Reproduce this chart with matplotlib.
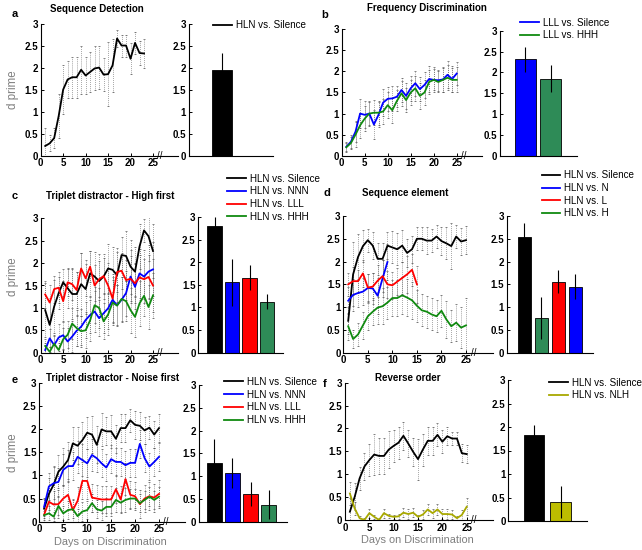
import numpy as np
import matplotlib
matplotlib.use('Agg')
import matplotlib.pyplot as plt
from matplotlib.ticker import FormatStrFormatter

plt.rcParams['font.family'] = ['Liberation Sans', 'DejaVu Sans']

# ---- data ----
days = np.arange(1, 26)

# a: sequence detection
a_sil = [0.22, 0.28, 0.4, 0.9, 1.5, 1.73, 1.78, 1.78, 1.95, 1.82, 1.9, 1.98, 2.0, 1.84, 1.85,
         2.05, 2.66, 2.5, 2.5, 2.2, 2.56, 2.33, 2.32]
a_sil_err = [0.4, 0.18, 0.22, 0.5, 0.55, 0.43, 0.47, 0.47, 0.54, 0.43, 0.45, 0.5, 0.48, 0.38, 0.72,
             0.6, 0.2, 0.25, 0.25, 0.35, 0.25, 0.28, 0.33]
a_bar = [1.95]
a_bar_err = [0.37]

# b: frequency discrimination
b_sil = [0.21, 0.33, 0.57, 1.0, 0.97, 1.0, 0.74, 0.97, 1.26, 1.35, 1.36, 1.4, 1.56, 1.42, 1.6,
         1.72, 1.58, 1.68, 1.82, 1.8, 1.79, 1.81, 1.92, 1.82, 1.95]
b_hhh = [0.2, 0.3, 0.5, 0.72, 0.88, 1.0, 1.02, 1.02, 1.05, 1.2, 1.08, 1.3, 1.48, 1.32, 1.5,
         1.6, 1.42, 1.5, 1.75, 1.8, 1.75, 1.8, 1.85, 1.8, 1.8]
b_sil_err = [0.12, 0.15, 0.25, 0.35, 0.32, 0.3, 0.35, 0.3, 0.32, 0.28, 0.3, 0.25, 0.28, 0.3, 0.3,
             0.3, 0.28, 0.3, 0.3, 0.3, 0.25, 0.3, 0.32, 0.3, 0.28]
b_hhh_err = [0.1, 0.15, 0.3, 0.3, 0.3, 0.28, 0.3, 0.28, 0.3, 0.3, 0.3, 0.25, 0.3, 0.28, 0.3,
             0.3, 0.3, 0.3, 0.28, 0.25, 0.25, 0.28, 0.3, 0.28, 0.3]
b_bar = [2.31, 1.85]
b_bar_err = [0.29, 0.33]

# c: triplet distractor - high first
c_sil = [0.95, 0.62, 1.03, 1.33, 1.57, 1.44, 1.31, 1.31, 1.53, 1.42, 1.77, 1.7, 1.6, 1.7, 1.88,
         1.85, 1.73, 2.18, 2.16, 1.92, 1.81, 2.37, 2.73, 2.6, 2.27]
c_nnn = [0.06, 0.32, 0.17, 0.34, 0.39, 0.25, 0.36, 0.49, 0.58, 0.73, 0.84, 0.92, 0.77, 0.88, 0.99,
         1.18, 1.06, 1.18, 1.33, 1.7, 1.47, 1.77, 1.7, 1.81, 1.86]
c_lll = [1.3, 1.12, 1.42, 1.45, 1.15, 1.57, 1.53, 1.4, 1.88, 1.66, 1.92, 1.5, 1.64, 1.71, 1.5,
         1.21, 1.8, 1.83, 1.62, 1.65, 1.55, 1.68, 1.64, 1.69, 1.5]
c_hhh = [0.15, 0.02, 0.2, 0.06, 0.3, 0.4, 0.65, 0.55, 0.48, 0.5, 0.72, 1.06, 1.0, 0.7, 0.85,
         1.12, 1.05, 1.2, 1.15, 0.95, 0.8, 1.1, 1.27, 1.02, 1.28]
c_sil_err = [0.6, 0.6, 0.6, 0.35, 0.3, 0.45, 0.55, 0.5, 0.7, 0.55, 0.5, 0.55, 0.6, 0.5, 0.55,
             0.5, 0.6, 0.4, 0.55, 0.6, 0.55, 0.5, 0.25, 0.55, 0.6]
c_nnn_err = [0.15, 0.2, 0.2, 0.3, 0.3, 0.3, 0.35, 0.35, 0.4, 0.4, 0.4, 0.45, 0.4, 0.45, 0.45,
             0.5, 0.45, 0.5, 0.5, 0.6, 0.5, 0.55, 0.6, 0.6, 0.6]
c_lll_err = [0.3, 0.4, 0.3, 0.35, 0.45, 0.3, 0.35, 0.4, 0.35, 0.4, 0.35, 0.45, 0.4, 0.4, 0.5,
             0.55, 0.45, 0.4, 0.45, 0.5, 0.45, 0.5, 0.45, 0.5, 0.6]
c_hhh_err = [0.15, 0.1, 0.2, 0.15, 0.25, 0.3, 0.35, 0.4, 0.35, 0.4, 0.45, 0.4, 0.45, 0.4, 0.45,
             0.5, 0.45, 0.5, 0.45, 0.5, 0.45, 0.5, 0.45, 0.5, 0.5]
c_bar = [2.8, 1.56, 1.66, 1.13]
c_bar_err = [0.2, 0.52, 0.27, 0.17]

# d: sequence element
d_sil = [0.7, 1.72, 2.1, 2.34, 2.47, 2.35, 2.06, 2.06, 2.35, 2.31, 2.27, 2.35, 2.19, 2.27, 2.5,
         2.5, 2.46, 2.46, 2.55, 2.45, 2.4, 2.34, 2.55, 2.44, 2.47]
d_n = [1.14, 1.27, 1.31, 1.34, 1.42, 1.41, 1.25, 1.63, 1.99]
d_l = [1.5, 1.57, 1.57, 1.74, 1.43, 1.45, 1.58, 1.68, 1.5, 1.48, 1.56, 1.64, 1.72, 1.82, 1.5]
d_h = [0.58, 0.3, 0.4, 0.6, 0.8, 0.9, 0.99, 1.02, 1.1, 1.2, 1.2, 1.26, 1.21, 1.15, 1.03,
       0.93, 0.9, 0.84, 0.8, 0.92, 0.73, 0.58, 0.66, 0.55, 0.6]
d_sil_err = [0.3, 0.7, 0.5, 0.35, 0.25, 0.3, 0.35, 0.35, 0.3, 0.35, 0.35, 0.35, 0.3, 0.3, 0.25,
             0.25, 0.3, 0.25, 0.25, 0.3, 0.35, 0.5, 0.25, 0.3, 0.3]
d_n_err = [0.3, 0.35, 0.3, 0.3, 0.3, 0.35, 0.4, 0.4, 0.4]
d_l_err = [0.25, 0.3, 0.25, 0.3, 0.3, 0.3, 0.35, 0.35, 0.3, 0.3, 0.3, 0.35, 0.4, 0.35, 0.4]
d_h_err = [0.3, 0.2, 0.25, 0.3, 0.3, 0.3, 0.35, 0.4, 0.35, 0.4, 0.4, 0.4, 0.4, 0.4, 0.35,
           0.35, 0.35, 0.35, 0.35, 0.35, 0.4, 0.35, 0.4, 0.45, 0.6]
d_bar = [2.55, 0.76, 1.56, 1.45]
d_bar_err = [0.3, 0.46, 0.25, 0.27]

# e: triplet distractor - noise first
e_sil = [0.28, 0.6, 0.8, 1.08, 1.19, 1.33, 1.69, 1.64, 1.76, 1.92, 1.88, 1.66, 1.99, 1.95, 1.95,
         1.79, 2.02, 2.02, 2.19, 2.09, 2.07, 1.97, 2.03, 1.88, 2.02]
e_nnn = [0.32, 0.76, 0.83, 0.86, 1.12, 1.2, 1.2, 1.4, 1.33, 1.26, 1.44, 1.37, 1.26, 1.17, 1.35,
         1.29, 1.29, 1.22, 1.27, 1.27, 1.68, 1.37, 1.19, 1.29, 1.4]
e_lll = [0.15, 0.43, 0.37, 0.38, 0.5, 0.58, 0.25, 0.45, 0.88, 0.88, 0.52, 0.5, 0.48, 0.48, 0.48,
         0.7, 0.48, 0.92, 0.58, 0.55, 0.38, 0.5, 0.55, 0.52, 0.6]
e_hhh = [0.14, 0.18, 0.11, 0.34, 0.18, 0.25, 0.27, 0.12, 0.22, 0.25, 0.4, 0.27, 0.24, 0.32, 0.32,
         0.47, 0.41, 0.47, 0.5, 0.5, 0.4, 0.47, 0.54, 0.47, 0.54]
e_sil_err = [0.2, 0.35, 0.4, 0.35, 0.4, 0.4, 0.35, 0.4, 0.4, 0.35, 0.4, 0.4, 0.35, 0.3, 0.35,
             0.3, 0.3, 0.3, 0.25, 0.3, 0.3, 0.3, 0.25, 0.3, 0.3]
e_nnn_err = [0.2, 0.3, 0.35, 0.3, 0.35, 0.35, 0.3, 0.35, 0.35, 0.3, 0.35, 0.3, 0.3, 0.3, 0.3,
             0.3, 0.3, 0.3, 0.3, 0.3, 0.3, 0.3, 0.3, 0.3, 0.3]
e_lll_err = [0.15, 0.25, 0.3, 0.3, 0.3, 0.3, 0.25, 0.3, 0.4, 0.4, 0.3, 0.3, 0.3, 0.3, 0.3,
             0.3, 0.3, 0.35, 0.3, 0.3, 0.3, 0.3, 0.3, 0.3, 0.3]
e_hhh_err = [0.1, 0.15, 0.1, 0.2, 0.15, 0.2, 0.2, 0.15, 0.2, 0.2, 0.2, 0.2, 0.2, 0.2, 0.2,
             0.25, 0.2, 0.25, 0.2, 0.2, 0.2, 0.2, 0.2, 0.2, 0.2]
e_bar = [1.29, 1.07, 0.61, 0.37]
e_bar_err = [0.53, 0.33, 0.27, 0.32]

# f: reverse order
f_sil = [0.18, 0.51, 0.91, 1.17, 1.31, 1.43, 1.4, 1.4, 1.54, 1.62, 1.69, 1.84, 1.67, 1.49, 1.33,
         1.54, 1.73, 1.73, 1.86, 1.71, 1.83, 1.78, 1.78, 1.46, 1.44]
f_nlh = [0.58, 0.25, 0.04, 0.0, 0.15, 0.07, 0.0, 0.15, 0.09, 0.07, 0.08, 0.16, 0.13, 0.16, 0.07,
         0.12, 0.23, 0.15, 0.23, 0.13, 0.13, 0.12, 0.04, 0.11, 0.29]
f_sil_err = [0.3, 0.3, 0.25, 0.3, 0.35, 0.45, 0.4, 0.4, 0.4, 0.35, 0.35, 0.3, 0.3, 0.3, 0.45,
             0.35, 0.3, 0.3, 0.25, 0.25, 0.2, 0.15, 0.15, 0.2, 0.2]
f_nlh_err = [0.25, 0.15, 0.05, 0.05, 0.1, 0.05, 0.05, 0.1, 0.05, 0.05, 0.05, 0.1, 0.1, 0.1, 0.05,
             0.1, 0.12, 0.1, 0.12, 0.1, 0.1, 0.1, 0.05, 0.1, 0.18]
f_bar = [1.82, 0.4]
f_bar_err = [0.22, 0.34]

# colours
BLACK = 'black'
BLUE = '#0000ff'
RED = '#ff0000'
GREEN_LINE = '#108a10'
GREEN_BAR = '#2e8b57'
OLIVE_LINE = '#a8a800'
OLIVE_BAR = '#bdbd00'
GREY = '#7f7f7f'

W, H = 642, 550
XMAX = 30.5
fig = plt.figure(figsize=(W / 100, H / 100), dpi=100)


def fx(x):
    return x / W


def fy(y):
    return 1 - y / H


def style(ax):
    ax.spines['top'].set_visible(False)
    ax.spines['right'].set_visible(False)
    for s in ('left', 'bottom'):
        ax.spines[s].set_linewidth(0.8)
    ax.tick_params(direction='in', length=2.5, width=0.7, labelsize=7, pad=2)
    for lab in ax.get_xticklabels() + ax.get_yticklabels():
        lab.set_fontweight('bold')
    ax.set_ylim(0, 3)
    ax.set_yticks([0, 0.5, 1, 1.5, 2, 2.5, 3])
    ax.yaxis.set_major_formatter(FormatStrFormatter('%g'))


def line_panel(px0, px25, top, bottom, series):
    right = px0 + (px25 - px0) * XMAX / 25
    ax = fig.add_axes([fx(px0), fy(bottom), (right - px0) / W, (bottom - top) / H])
    handles = []
    for vals, err, color, label in series:
        x = days[:len(vals)]
        eb = ax.errorbar(x, vals, yerr=err, fmt='none', ecolor='#555555', elinewidth=0.5,
                         capsize=0.9, capthick=0.5, zorder=1)
        eb.lines[2][0].set_linestyle((0, (1, 1.8)))
    for vals, err, color, label in series:
        x = days[:len(vals)]
        h, = ax.plot(x, vals, color=color, lw=1.3, zorder=3, label=label)
        handles.append(h)
    ax.set_xlim(0, XMAX)
    ax.set_xticks([0, 5, 10, 15, 20, 25])
    style(ax)
    ax.text(26.5, 0, '//', ha='center', va='center', fontsize=7, clip_on=False,
            transform=ax.transData)
    return ax, handles


def bar_panel(l, r, top, bottom, vals, errs, colors, xlim, width):
    ax = fig.add_axes([fx(l), fy(bottom), (r - l) / W, (bottom - top) / H])
    pos = np.arange(1, len(vals) + 1)
    ax.bar(pos, vals, width=width, color=colors, edgecolor='black', linewidth=0.6, zorder=2)
    ax.errorbar(pos, vals, yerr=errs, fmt='none', ecolor='black', elinewidth=0.8,
                capsize=0, zorder=3)
    ax.set_xlim(*xlim)
    ax.set_xticks([])
    style(ax)
    return ax


def legend(ax, handles, left, first_row):
    ax.legend(handles=handles, loc='upper left', bbox_to_anchor=(fx(left), fy(first_row - 6.5)),
              bbox_transform=fig.transFigure, frameon=False, fontsize=7.1, handlelength=1.9,
              handletextpad=0.4, labelspacing=0.28, borderpad=0, borderaxespad=0)


# ---- a ----
axa, ha = line_panel(40.7, 153, 23.5, 155.7, [(a_sil, a_sil_err, BLACK, 'HLN vs. Silence')])
axa_b = bar_panel(189, 273, 23.5, 155.7, a_bar, a_bar_err, [BLACK], (-0.32, 3.04), 0.8)
legend(axa_b, ha, 213, 26.7)

# ---- b ----
axb, hb = line_panel(341.7, 456.7, 29.3, 155.7,
                     [(b_sil, b_sil_err, BLUE, 'LLL vs. Silence'),
                      (b_hhh, b_hhh_err, GREEN_LINE, 'LLL vs. HHH')])
axb_b = bar_panel(500, 577, 30.7, 155.7, b_bar, b_bar_err, [BLUE, GREEN_BAR], (0.02, 3.02), 0.82)
legend(axb_b, hb, 520, 24)

# ---- c ----
axc, hc = line_panel(40.7, 153, 218.3, 352.7,
                     [(c_sil, c_sil_err, BLACK, 'HLN vs. Silence'),
                      (c_nnn, c_nnn_err, BLUE, 'HLN vs. NNN'),
                      (c_lll, c_lll_err, RED, 'HLN vs. LLL'),
                      (c_hhh, c_hhh_err, GREEN_LINE, 'HLN vs. HHH')])
axc_b = bar_panel(198.3, 283, 217, 352.7, c_bar, c_bar_err, [BLACK, BLUE, RED, GREEN_BAR],
                  (0.07, 4.91), 0.83)
legend(axc_b, hc, 227, 180)

# ---- d ----
axd, hd = line_panel(343.3, 466, 216, 352.7,
                     [(d_sil, d_sil_err, BLACK, 'HLN vs. Silence'),
                      (d_n, d_n_err, BLUE, 'HLN vs. N'),
                      (d_l, d_l_err, RED, 'HLN vs. L'),
                      (d_h, d_h_err, GREEN_LINE, 'HLN vs. H')])
axd_b = bar_panel(506.7, 593, 216, 352.7, d_bar, d_bar_err, [BLACK, GREEN_BAR, RED, BLUE],
                  (-0.05, 5.05), 0.76)
legend(axd_b, hd, 541.7, 176.7)

# ---- e ----
axe, he = line_panel(39.3, 159, 382.7, 521.7,
                     [(e_sil, e_sil_err, BLACK, 'HLN vs. Silence'),
                      (e_nnn, e_nnn_err, BLUE, 'HLN vs. NNN'),
                      (e_lll, e_lll_err, RED, 'HLN vs. LLL'),
                      (e_hhh, e_hhh_err, GREEN_LINE, 'HLN vs. HHH')])
axe_b = bar_panel(199, 287, 385, 521.7, e_bar, e_bar_err, [BLACK, BLUE, RED, GREEN_BAR],
                  (0.16, 5.0), 0.81)
legend(axe_b, he, 224, 383.3)

# ---- f ----
axf, hf = line_panel(345, 466.7, 382.7, 520,
                     [(f_sil, f_sil_err, BLACK, 'HLN vs. Silence'),
                      (f_nlh, f_nlh_err, OLIVE_LINE, 'HLN vs. NLH')])
axf_b = bar_panel(508.3, 587, 380, 521, f_bar, f_bar_err, [BLACK, OLIVE_BAR], (0.03, 2.99), 0.77)
legend(axf_b, hf, 549, 384)

# titles, letters, axis labels
titles = [('Sequence Detection', 97, 9.5), ('Frequency Discrimination', 427, 8),
          ('Triplet distractor - High first', 110, 196), ('Sequence element', 405, 193),
          ('Triplet distractor - Noise first', 113, 378), ('Reverse order', 408, 378)]
for t, x, y in titles:
    fig.text(fx(x), fy(y), t, ha='center', va='center', fontsize=7, fontweight='bold')

letters = [('a', 15, 14), ('b', 325, 15), ('c', 15, 196), ('d', 327, 193), ('e', 15, 380),
           ('f', 325, 384)]
for t, x, y in letters:
    fig.text(fx(x), fy(y), t, ha='center', va='center', fontsize=8, fontweight='bold')

for y in (90, 277, 453):
    fig.text(fx(13), fy(y), 'd prime', rotation=90, ha='center', va='center', fontsize=8.3,
             color=GREY)

fig.text(fx(110), fy(541.7), 'Days on Discrimination', ha='center', va='center', fontsize=7.9,
         color=GREY)
fig.text(fx(417), fy(540), 'Days on Discrimination', ha='center', va='center', fontsize=7.9,
         color=GREY)

fig.savefig('out.png', dpi=100)
